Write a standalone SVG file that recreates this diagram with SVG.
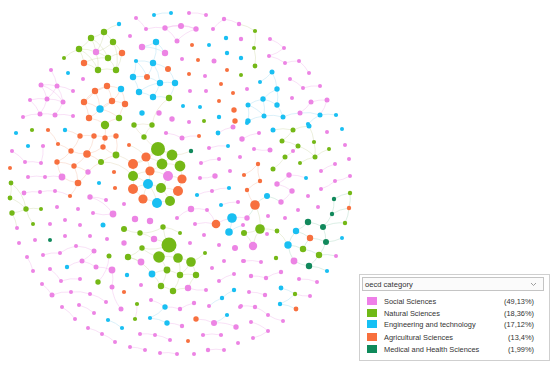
<svg xmlns="http://www.w3.org/2000/svg" width="550" height="370" viewBox="0 0 550 370">
<style>
.p{fill:#ec84e4}.g{fill:#74b816}.c{fill:#19bff2}.o{fill:#f7703f}.t{fill:#11895c}
#edges path{fill:none;stroke-width:.6;opacity:.7}
.ep{stroke:#f0b6eb}.eg{stroke:#d2dcae}.ec{stroke:#a9def2}.eo{stroke:#f6c4ae}.et{stroke:#e2d6b8}.ek{stroke:#aad8c2}
.lt{font-family:"Liberation Sans",Arial,sans-serif;font-size:7.4px;fill:#333}
</style>
<rect width="550" height="370" fill="#fff"/>
<g id="edges">
<path class="eg" d="M104 32A40 40 0 0 1 91 38M104 32A40 40 0 0 1 113 42M91 38A40 40 0 0 1 79 49M91 38A40 40 0 0 1 96 52M113 42A40 40 0 0 1 96 52M113 42A40 40 0 0 1 122 53M79 49A40 40 0 0 1 84 63M79 49A40 40 0 0 1 96 52M96 52A40 40 0 0 1 108 58M108 58A40 40 0 0 1 122 53M84 63A40 40 0 0 1 98 70M98 70A40 40 0 0 1 116 70M108 58A40 40 0 0 1 116 70M104 32A40 40 0 0 1 96 52M91 38A40 40 0 0 1 108 58M84 63A40 40 0 0 1 108 58M79 49A40 40 0 0 1 98 70M113 42A40 40 0 0 1 116 70M122 53A40 40 0 0 1 116 70M96 52A40 40 0 0 1 98 70M64 58A40 40 0 0 1 79 49M104 32A40 40 0 0 1 119 24M255 31A40 40 0 0 1 254 48M254 48A40 40 0 0 1 255 66M239 24A40 40 0 0 1 255 31M11 183A40 40 0 0 1 10 198M10 198A40 40 0 0 1 26 209M26 209A40 40 0 0 1 12 213M26 209A40 40 0 0 1 41 209M11 183A40 40 0 0 1 26 209M12 213A40 40 0 0 1 17 228M33 224A40 40 0 0 1 26 209M273 130A40 40 0 0 1 293 130M293 130A40 40 0 0 1 282 141M282 141A40 40 0 0 1 298 146M298 146A40 40 0 0 1 285 157M285 157A40 40 0 0 1 273 169M309 126A40 40 0 0 1 314 142M314 142A40 40 0 0 1 315 157M315 157A40 40 0 0 1 329 149M298 146A40 40 0 0 1 315 157M300 163A40 40 0 0 1 315 157M293 130A40 40 0 0 1 309 126"/>
<path class="eg" d="M169 245A40 40 0 0 1 159 257M169 245A40 40 0 0 1 178 258M159 257A40 40 0 0 1 142 248M142 248A40 40 0 0 1 128 257M128 257A40 40 0 0 1 141 262M159 257A40 40 0 0 1 167 270M178 258A40 40 0 0 1 191 262M167 270A40 40 0 0 1 180 275M180 275A40 40 0 0 1 196 275M191 262A40 40 0 0 1 196 275M167 270A40 40 0 0 1 161 286M161 286A40 40 0 0 1 173 291M173 291A40 40 0 0 1 188 288M180 275A40 40 0 0 1 173 291M152 274A40 40 0 0 1 167 270M152 274A40 40 0 0 1 161 286M169 245A40 40 0 0 1 163 227M163 227A40 40 0 0 1 180 233M140 233A40 40 0 0 1 154 239M154 239A40 40 0 0 1 169 245M140 233A40 40 0 0 1 124 229M159 257A40 40 0 0 1 178 258M178 258A40 40 0 0 1 180 275M169 245A40 40 0 0 1 142 248M191 262A40 40 0 0 1 180 275M188 288A40 40 0 0 1 196 275M163 227A40 40 0 0 1 140 233M128 257A40 40 0 0 1 152 274M205 253A40 40 0 0 1 191 262M260 229A40 40 0 0 1 277 231M260 229A40 40 0 0 1 244 233M255 205A40 40 0 0 1 260 229M253 245A40 40 0 0 1 260 229M244 233A40 40 0 0 1 253 245M277 231A40 40 0 0 1 288 245"/>
<path class="eo" d="M107 86A40 40 0 0 1 95 91M107 86A40 40 0 0 1 121 89M95 91A40 40 0 0 1 84 102M107 86A40 40 0 0 1 112 101M112 101A40 40 0 0 1 125 104M84 102A40 40 0 0 1 100 109M100 109A40 40 0 0 1 112 101M100 109A40 40 0 0 1 89 118M89 118A40 40 0 0 1 105 124M105 124A40 40 0 0 1 119 118M119 118A40 40 0 0 1 125 104M95 91A40 40 0 0 1 100 109M84 102A40 40 0 0 1 89 118M121 89A40 40 0 0 1 125 104M84 102A40 40 0 0 1 107 86M121 89A40 40 0 0 1 100 109M100 109A40 40 0 0 1 119 118M80 136A40 40 0 0 1 94 136M94 136A40 40 0 0 1 105 137M105 137A40 40 0 0 1 116 136M80 136A40 40 0 0 1 71 151M94 136A40 40 0 0 1 87 154M105 137A40 40 0 0 1 103 147M103 147A40 40 0 0 1 87 154M87 154A40 40 0 0 1 71 151M87 154A40 40 0 0 1 74 166M71 151A40 40 0 0 1 57 162M57 162A40 40 0 0 1 74 166M74 166A40 40 0 0 1 88 172M88 172A40 40 0 0 1 101 162M101 162A40 40 0 0 1 116 155M116 155A40 40 0 0 1 103 147M74 166A40 40 0 0 1 78 183M78 183A40 40 0 0 1 62 177M62 177A40 40 0 0 1 57 162M78 183A40 40 0 0 1 70 196M88 172A40 40 0 0 1 78 183M87 154A40 40 0 0 1 101 162M116 136A40 40 0 0 1 116 155M105 125A40 40 0 0 1 105 137M58 144A40 40 0 0 1 71 151M48 130A40 40 0 0 1 58 144M65 130A40 40 0 0 1 80 136M255 205A40 40 0 0 1 247 190M247 190A40 40 0 0 1 260 181M260 181A40 40 0 0 1 258 164M258 164A40 40 0 0 1 244 175"/>
<path class="et" d="M158 149A40 40 0 0 1 146 157M158 149A40 40 0 0 1 172 155M158 149A40 40 0 0 1 162 164M146 157A40 40 0 0 1 133 164M146 157A40 40 0 0 1 150 171M172 155A40 40 0 0 1 180 166M162 164A40 40 0 0 1 168 176M162 164A40 40 0 0 1 150 171M180 166A40 40 0 0 1 182 179M133 164A40 40 0 0 1 133 176M133 176A40 40 0 0 1 148 184M150 171A40 40 0 0 1 148 184M168 176A40 40 0 0 1 182 179M148 184A40 40 0 0 1 161 188M161 188A40 40 0 0 1 178 191M133 176A40 40 0 0 1 133 189M133 189A40 40 0 0 1 143 199M143 199A40 40 0 0 1 157 203M157 203A40 40 0 0 1 170 201M170 201A40 40 0 0 1 178 191M161 188A40 40 0 0 1 170 201M148 184A40 40 0 0 1 157 203M168 176A40 40 0 0 1 161 188M158 149A40 40 0 0 1 144 137M144 137A40 40 0 0 1 134 125M144 137A40 40 0 0 1 152 125M129 145A40 40 0 0 1 146 157M134 125A40 40 0 0 1 152 125M158 149A40 40 0 0 1 133 164M172 155A40 40 0 0 1 162 164M133 189A40 40 0 0 1 148 184M143 199A40 40 0 0 1 148 184M182 179A40 40 0 0 1 178 191M162 164A40 40 0 0 1 180 166M158 149A40 40 0 0 1 180 166M146 157A40 40 0 0 1 162 164M150 171A40 40 0 0 1 168 176M133 176A40 40 0 0 1 150 171M191 151A40 40 0 0 1 172 155M116 155A40 40 0 0 1 133 164M101 162A40 40 0 0 1 133 176M152 125A40 40 0 0 1 169 98"/>
<path class="ec" d="M136 61A40 40 0 0 1 153 63M153 63A40 40 0 0 1 168 69M136 61A40 40 0 0 1 133 77M133 77A40 40 0 0 1 147 77M147 77A40 40 0 0 1 160 83M160 83A40 40 0 0 1 175 83M133 77A40 40 0 0 1 139 92M139 92A40 40 0 0 1 153 97M153 97A40 40 0 0 1 169 98M160 83A40 40 0 0 1 153 97M175 83A40 40 0 0 1 169 98M153 63A40 40 0 0 1 147 77M153 63A40 40 0 0 1 160 83M168 69A40 40 0 0 1 175 83M139 92A40 40 0 0 1 160 83M136 61A40 40 0 0 1 147 77M156 42A40 40 0 0 1 142 47M156 42A40 40 0 0 1 165 53M142 47A40 40 0 0 1 165 53M156 42A40 40 0 0 1 153 63M248 105A40 40 0 0 1 263 99M263 99A40 40 0 0 1 277 89M277 89A40 40 0 0 1 277 105M263 99A40 40 0 0 1 277 105M248 105A40 40 0 0 1 264 116M264 116A40 40 0 0 1 283 117M277 105A40 40 0 0 1 283 117M248 121A40 40 0 0 1 264 116M272 72A40 40 0 0 1 260 82M272 72A40 40 0 0 1 277 89M263 99A40 40 0 0 1 264 116M248 105A40 40 0 0 1 248 121M300 113A40 40 0 0 1 320 115M320 115A40 40 0 0 1 336 115M283 117A40 40 0 0 1 300 113M308 124A40 40 0 0 1 320 115M165 307A40 40 0 0 1 150 318M150 318A40 40 0 0 1 167 323M209 306A40 40 0 0 1 222 298M222 298A40 40 0 0 1 234 290M227 315A40 40 0 0 1 214 323M281 288A40 40 0 0 1 295 294M295 294A40 40 0 0 1 280 304M280 304A40 40 0 0 1 296 309M108 320A40 40 0 0 1 122 328M232 218A40 40 0 0 1 229 232M229 232A40 40 0 0 1 243 225M154 15A40 40 0 0 1 171 13"/>
<path class="ek" d="M308 222A40 40 0 0 1 323 227M323 227A40 40 0 0 1 345 223M308 222A40 40 0 0 1 296 231M296 231A40 40 0 0 1 310 238M310 238A40 40 0 0 1 326 242M323 227A40 40 0 0 1 326 242M288 245A40 40 0 0 1 303 249M303 249A40 40 0 0 1 319 255M319 255A40 40 0 0 1 309 266M309 266A40 40 0 0 1 294 261M294 261A40 40 0 0 1 288 245M303 249A40 40 0 0 1 310 238M288 245A40 40 0 0 1 296 231M326 242A40 40 0 0 1 319 255M334 199A40 40 0 0 1 350 193M334 199A40 40 0 0 1 332 214M332 214A40 40 0 0 1 349 208M349 208A40 40 0 0 1 345 223M350 193A40 40 0 0 1 349 208M332 214A40 40 0 0 1 323 227M342 238A40 40 0 0 1 326 242M319 255A40 40 0 0 1 336 256M309 266A40 40 0 0 1 327 271M255 205A40 40 0 0 1 267 196M255 205A40 40 0 0 1 247 218M267 196A40 40 0 0 1 281 202"/>
<path class="ep" d="M41 85A40 40 0 0 1 57 86M41 85A40 40 0 0 1 47 99M57 86A40 40 0 0 1 63 102M47 99A40 40 0 0 1 63 102M30 100A40 40 0 0 1 47 99M47 99A40 40 0 0 1 40 114M63 102A40 40 0 0 1 55 115M40 114A40 40 0 0 1 55 115M23 117A40 40 0 0 1 40 114M57 86A40 40 0 0 1 73 91M41 85A40 40 0 0 1 63 102M57 86A40 40 0 0 1 47 99M55 115A40 40 0 0 1 73 116M30 100A40 40 0 0 1 40 114M51 70A40 40 0 0 1 57 86M165 28A40 40 0 0 1 181 26M181 26A40 40 0 0 1 196 29M165 28A40 40 0 0 1 177 41M177 41A40 40 0 0 1 196 29M165 28A40 40 0 0 1 196 29M146 29A40 40 0 0 1 165 28M136 18A40 40 0 0 1 146 29M189 13A40 40 0 0 1 206 15M224 19A40 40 0 0 1 239 24M213 29A40 40 0 0 1 224 19M270 39A40 40 0 0 1 284 48M269 56A40 40 0 0 1 285 63M285 63A40 40 0 0 1 299 61M299 61A40 40 0 0 1 309 73M290 79A40 40 0 0 1 303 88M303 88A40 40 0 0 1 320 86M284 48A40 40 0 0 1 269 56M311 102A40 40 0 0 1 327 100M311 102A40 40 0 0 1 300 113M327 100A40 40 0 0 1 320 115M28 177A40 40 0 0 1 45 177M45 177A40 40 0 0 1 62 177M40 192A40 40 0 0 1 55 191M24 193A40 40 0 0 1 40 192M25 162A40 40 0 0 1 41 163M12 151A40 40 0 0 1 25 162M43 146A40 40 0 0 1 41 163M55 191A40 40 0 0 1 70 196M90 197A40 40 0 0 1 106 200M90 197A40 40 0 0 1 113 214M113 214A40 40 0 0 1 93 213M289 175A40 40 0 0 1 277 184M277 184A40 40 0 0 1 292 191M292 191A40 40 0 0 1 281 202M270 150A40 40 0 0 1 254 149M289 175A40 40 0 0 1 306 178M321 171A40 40 0 0 1 335 164M335 181A40 40 0 0 1 321 189M350 176A40 40 0 0 1 335 181M242 139A40 40 0 0 1 259 133"/>
<path class="ep" d="M60 253A40 40 0 0 1 76 246M76 246A40 40 0 0 1 94 251M94 251A40 40 0 0 1 82 261M82 261A40 40 0 0 1 96 267M96 267A40 40 0 0 1 112 270M112 270A40 40 0 0 1 112 287M43 255A40 40 0 0 1 60 253M27 257A40 40 0 0 1 33 271M50 269A40 40 0 0 1 61 281M61 281A40 40 0 0 1 80 279M42 284A40 40 0 0 1 52 295M52 295A40 40 0 0 1 71 292M71 292A40 40 0 0 1 90 294M90 294A40 40 0 0 1 106 302M79 305A40 40 0 0 1 94 313M62 307A40 40 0 0 1 75 319M88 328A40 40 0 0 1 102 334M102 334A40 40 0 0 1 115 342M121 309A40 40 0 0 1 112 287M109 256A40 40 0 0 1 98 282M67 267A40 40 0 0 1 82 261M165 307A40 40 0 0 1 180 309M180 309A40 40 0 0 1 194 303M167 323A40 40 0 0 1 182 326M196 319A40 40 0 0 1 214 323M214 323A40 40 0 0 1 236 327M140 334A40 40 0 0 1 155 335M155 335A40 40 0 0 1 170 340M203 335A40 40 0 0 1 221 335M208 350A40 40 0 0 1 224 350M160 353A40 40 0 0 1 177 354M130 347A40 40 0 0 1 145 350M137 304A40 40 0 0 1 135 319M151 300A40 40 0 0 1 165 307M219 281A40 40 0 0 1 234 274M206 290A40 40 0 0 1 188 288M244 261A40 40 0 0 1 261 262M251 276A40 40 0 0 1 266 278M266 278A40 40 0 0 1 281 272M249 292A40 40 0 0 1 265 295M241 306A40 40 0 0 1 255 307M255 307A40 40 0 0 1 268 315M251 322A40 40 0 0 1 268 331M268 331A40 40 0 0 1 253 338M283 321A40 40 0 0 1 268 315M299 279A40 40 0 0 1 317 282M310 296A40 40 0 0 1 295 294M191 209A40 40 0 0 1 207 210M207 210A40 40 0 0 1 216 224M216 224A40 40 0 0 1 232 218M215 176A40 40 0 0 1 200 178M201 163A40 40 0 0 1 219 159M209 148A40 40 0 0 1 228 146M218 133A40 40 0 0 1 233 127M182 138A40 40 0 0 1 199 136M166 133A40 40 0 0 1 182 138M212 191A40 40 0 0 1 229 188M197 195A40 40 0 0 1 212 191M221 205A40 40 0 0 1 238 202M195 224A40 40 0 0 1 216 224M177 218A40 40 0 0 1 191 209M232 218A40 40 0 0 1 247 218"/>
</g>
<g id="nodes">
<g id="n1"><circle class="c" cx="119" cy="24" r="2.2"/></g>
<g id="n2"><circle class="g" cx="104" cy="32" r="3.2"/></g>
<g id="n3"><circle class="g" cx="91" cy="38" r="3.2"/></g>
<g id="n4"><circle class="g" cx="113" cy="42" r="3.2"/></g>
<g id="n5"><circle class="g" cx="79" cy="49" r="3.2"/></g>
<g id="n6"><circle class="p" cx="96" cy="52" r="3.2"/></g>
<g id="n7"><circle class="o" cx="122" cy="53" r="3.2"/></g>
<g id="n8"><circle class="g" cx="108" cy="58" r="3.2"/></g>
<g id="n9"><circle class="o" cx="84" cy="63" r="3.2"/></g>
<g id="n10"><circle class="g" cx="64" cy="58" r="2"/></g>
<g id="n11"><circle class="g" cx="98" cy="70" r="3.2"/></g>
<g id="n12"><circle class="g" cx="116" cy="70" r="3.2"/></g>
<g id="n13"><circle class="p" cx="51" cy="70" r="2"/></g>
<g id="n14"><circle class="c" cx="68" cy="73" r="2"/></g>
<g id="n15"><circle class="p" cx="83" cy="79" r="2"/></g>
<g id="n16"><circle class="p" cx="41" cy="85" r="2.5"/></g>
<g id="n17"><circle class="p" cx="57" cy="86" r="2.5"/></g>
<g id="n18"><circle class="o" cx="107" cy="86" r="3.2"/></g>
<g id="n19"><circle class="c" cx="121" cy="89" r="3.2"/></g>
<g id="n20"><circle class="p" cx="73" cy="91" r="2"/></g>
<g id="n21"><circle class="o" cx="95" cy="91" r="3.2"/></g>
<g id="n22"><circle class="o" cx="84" cy="102" r="3.2"/></g>
<g id="n23"><circle class="p" cx="47" cy="99" r="2.5"/></g>
<g id="n24"><circle class="p" cx="30" cy="100" r="2"/></g>
<g id="n25"><circle class="p" cx="63" cy="102" r="2.5"/></g>
<g id="n26"><circle class="o" cx="112" cy="101" r="3.2"/></g>
<g id="n27"><circle class="o" cx="125" cy="104" r="3.2"/></g>
<g id="n28"><circle class="c" cx="100" cy="109" r="3.7"/></g>
<g id="n29"><circle class="p" cx="40" cy="114" r="2.5"/></g>
<g id="n30"><circle class="p" cx="55" cy="115" r="2.5"/></g>
<g id="n31"><circle class="p" cx="73" cy="116" r="2"/></g>
<g id="n32"><circle class="p" cx="23" cy="117" r="2"/></g>
<g id="n33"><circle class="o" cx="89" cy="118" r="3.2"/></g>
<g id="n34"><circle class="g" cx="119" cy="118" r="3.2"/></g>
<g id="n35"><circle class="g" cx="105" cy="125" r="4.2"/></g>
<g id="n36"><circle class="p" cx="136" cy="18" r="2"/></g>
<g id="n37"><circle class="c" cx="154" cy="15" r="2"/></g>
<g id="n38"><circle class="c" cx="171" cy="13" r="2"/></g>
<g id="n39"><circle class="p" cx="189" cy="13" r="2"/></g>
<g id="n40"><circle class="p" cx="206" cy="15" r="2"/></g>
<g id="n41"><circle class="p" cx="224" cy="19" r="2.2"/></g>
<g id="n42"><circle class="p" cx="239" cy="24" r="2.2"/></g>
<g id="n43"><circle class="p" cx="181" cy="26" r="3"/></g>
<g id="n44"><circle class="p" cx="165" cy="28" r="2.7"/></g>
<g id="n45"><circle class="p" cx="196" cy="29" r="2.7"/></g>
<g id="n46"><circle class="p" cx="146" cy="29" r="2"/></g>
<g id="n47"><circle class="p" cx="213" cy="29" r="2"/></g>
<g id="n48"><circle class="p" cx="130" cy="36" r="2"/></g>
<g id="n49"><circle class="c" cx="226" cy="38" r="2.2"/></g>
<g id="n50"><circle class="p" cx="241" cy="39" r="2.2"/></g>
<g id="n51"><circle class="p" cx="177" cy="41" r="2.5"/></g>
<g id="n52"><circle class="c" cx="156" cy="42" r="3.2"/></g>
<g id="n53"><circle class="o" cx="192" cy="45" r="2"/></g>
<g id="n54"><circle class="c" cx="209" cy="45" r="2"/></g>
<g id="n55"><circle class="p" cx="142" cy="47" r="3.2"/></g>
<g id="n56"><circle class="p" cx="165" cy="53" r="3.2"/></g>
<g id="n57"><circle class="c" cx="227" cy="53" r="2.2"/></g>
<g id="n58"><circle class="c" cx="241" cy="58" r="2.2"/></g>
<g id="n59"><circle class="p" cx="182" cy="59" r="2"/></g>
<g id="n60"><circle class="o" cx="198" cy="60" r="2"/></g>
<g id="n61"><circle class="p" cx="214" cy="61" r="2.5"/></g>
<g id="n62"><circle class="c" cx="136" cy="61" r="2.1"/></g>
<g id="n63"><circle class="c" cx="153" cy="63" r="3.2"/></g>
<g id="n64"><circle class="o" cx="168" cy="69" r="3"/></g>
<g id="n65"><circle class="o" cx="227" cy="70" r="2"/></g>
<g id="n66"><circle class="o" cx="189" cy="74" r="2"/></g>
<g id="n67"><circle class="p" cx="205" cy="76" r="2"/></g>
<g id="n68"><circle class="g" cx="241" cy="75" r="2"/></g>
<g id="n69"><circle class="c" cx="133" cy="77" r="3.2"/></g>
<g id="n70"><circle class="o" cx="147" cy="77" r="3"/></g>
<g id="n71"><circle class="c" cx="160" cy="83" r="3.2"/></g>
<g id="n72"><circle class="c" cx="175" cy="83" r="3.2"/></g>
<g id="n73"><circle class="o" cx="221" cy="84" r="2"/></g>
<g id="n74"><circle class="p" cx="190" cy="91" r="2"/></g>
<g id="n75"><circle class="p" cx="206" cy="91" r="2"/></g>
<g id="n76"><circle class="o" cx="233" cy="93" r="2"/></g>
<g id="n77"><circle class="c" cx="139" cy="92" r="3.2"/></g>
<g id="n78"><circle class="c" cx="153" cy="97" r="3.2"/></g>
<g id="n79"><circle class="g" cx="169" cy="98" r="3.2"/></g>
<g id="n80"><circle class="o" cx="219" cy="101" r="2"/></g>
<g id="n81"><circle class="c" cx="183" cy="106" r="2"/></g>
<g id="n82"><circle class="c" cx="200" cy="107" r="2"/></g>
<g id="n83"><circle class="o" cx="234" cy="110" r="2.7"/></g>
<g id="n84"><circle class="c" cx="142" cy="113" r="2.7"/></g>
<g id="n85"><circle class="p" cx="159" cy="113" r="2.7"/></g>
<g id="n86"><circle class="c" cx="219" cy="117" r="2.2"/></g>
<g id="n87"><circle class="p" cx="172" cy="119" r="2.7"/></g>
<g id="n88"><circle class="p" cx="189" cy="122" r="2"/></g>
<g id="n89"><circle class="g" cx="204" cy="121" r="2"/></g>
<g id="n90"><circle class="o" cx="235" cy="121" r="2.7"/></g>
<g id="n91"><circle class="g" cx="134" cy="125" r="2.7"/></g>
<g id="n92"><circle class="g" cx="152" cy="125" r="2.7"/></g>
<g id="n93"><circle class="g" cx="255" cy="31" r="2.1"/></g>
<g id="n94"><circle class="p" cx="270" cy="39" r="2"/></g>
<g id="n95"><circle class="g" cx="254" cy="48" r="2"/></g>
<g id="n96"><circle class="p" cx="284" cy="48" r="2"/></g>
<g id="n97"><circle class="p" cx="269" cy="56" r="2"/></g>
<g id="n98"><circle class="p" cx="285" cy="63" r="2"/></g>
<g id="n99"><circle class="p" cx="299" cy="61" r="2"/></g>
<g id="n100"><circle class="g" cx="255" cy="66" r="2.4"/></g>
<g id="n101"><circle class="c" cx="272" cy="72" r="2.5"/></g>
<g id="n102"><circle class="p" cx="309" cy="73" r="2"/></g>
<g id="n103"><circle class="c" cx="260" cy="82" r="2"/></g>
<g id="n104"><circle class="p" cx="290" cy="79" r="2"/></g>
<g id="n105"><circle class="p" cx="320" cy="86" r="2"/></g>
<g id="n106"><circle class="p" cx="303" cy="88" r="2"/></g>
<g id="n107"><circle class="c" cx="277" cy="89" r="2.7"/></g>
<g id="n108"><circle class="p" cx="247" cy="89" r="2"/></g>
<g id="n109"><circle class="c" cx="263" cy="99" r="2.7"/></g>
<g id="n110"><circle class="p" cx="292" cy="98" r="2"/></g>
<g id="n111"><circle class="p" cx="311" cy="102" r="2.5"/></g>
<g id="n112"><circle class="p" cx="327" cy="100" r="2.5"/></g>
<g id="n113"><circle class="c" cx="277" cy="105" r="2.7"/></g>
<g id="n114"><circle class="c" cx="248" cy="105" r="2.5"/></g>
<g id="n115"><circle class="p" cx="300" cy="113" r="2.5"/></g>
<g id="n116"><circle class="c" cx="320" cy="115" r="2.5"/></g>
<g id="n117"><circle class="c" cx="336" cy="115" r="2.1"/></g>
<g id="n118"><circle class="c" cx="264" cy="116" r="2.5"/></g>
<g id="n119"><circle class="c" cx="283" cy="117" r="2.5"/></g>
<g id="n120"><circle class="c" cx="248" cy="121" r="2.7"/></g>
<g id="n121"><circle class="c" cx="308" cy="124" r="2.1"/></g>
<g id="n122"><circle class="c" cx="16" cy="133" r="2.1"/></g>
<g id="n123"><circle class="g" cx="32" cy="130" r="2.1"/></g>
<g id="n124"><circle class="o" cx="48" cy="130" r="2.1"/></g>
<g id="n125"><circle class="c" cx="65" cy="130" r="2.2"/></g>
<g id="n126"><circle class="o" cx="80" cy="136" r="2.7"/></g>
<g id="n127"><circle class="o" cx="94" cy="136" r="2.7"/></g>
<g id="n128"><circle class="o" cx="105" cy="138" r="2.7"/></g>
<g id="n129"><circle class="o" cx="116" cy="136" r="2.7"/></g>
<g id="n130"><circle class="c" cx="28" cy="146" r="2.1"/></g>
<g id="n131"><circle class="p" cx="43" cy="146" r="2.1"/></g>
<g id="n132"><circle class="o" cx="58" cy="144" r="2.1"/></g>
<g id="n133"><circle class="o" cx="103" cy="147" r="2.7"/></g>
<g id="n134"><circle class="p" cx="12" cy="151" r="2"/></g>
<g id="n135"><circle class="o" cx="71" cy="151" r="2.7"/></g>
<g id="n136"><circle class="o" cx="87" cy="154" r="3.8"/></g>
<g id="n137"><circle class="g" cx="116" cy="155" r="3.4"/></g>
<g id="n138"><circle class="p" cx="25" cy="162" r="2"/></g>
<g id="n139"><circle class="p" cx="41" cy="163" r="2"/></g>
<g id="n140"><circle class="o" cx="57" cy="162" r="2.7"/></g>
<g id="n141"><circle class="g" cx="101" cy="162" r="3"/></g>
<g id="n142"><circle class="o" cx="74" cy="166" r="2.7"/></g>
<g id="n143"><circle class="o" cx="10" cy="168" r="2"/></g>
<g id="n144"><circle class="p" cx="88" cy="172" r="2.7"/></g>
<g id="n145"><circle class="o" cx="114" cy="172" r="2.1"/></g>
<g id="n146"><circle class="p" cx="28" cy="177" r="2"/></g>
<g id="n147"><circle class="p" cx="45" cy="177" r="2"/></g>
<g id="n148"><circle class="p" cx="62" cy="177" r="3.4"/></g>
<g id="n149"><circle class="o" cx="78" cy="183" r="3.3"/></g>
<g id="n150"><circle class="g" cx="11" cy="183" r="2.4"/></g>
<g id="n151"><circle class="c" cx="99" cy="183" r="2.1"/></g>
<g id="n152"><circle class="o" cx="115" cy="188" r="2.1"/></g>
<g id="n153"><circle class="p" cx="24" cy="193" r="2.4"/></g>
<g id="n154"><circle class="p" cx="40" cy="192" r="2"/></g>
<g id="n155"><circle class="p" cx="55" cy="191" r="2"/></g>
<g id="n156"><circle class="o" cx="70" cy="196" r="2.1"/></g>
<g id="n157"><circle class="p" cx="90" cy="197" r="2.7"/></g>
<g id="n158"><circle class="p" cx="106" cy="200" r="2"/></g>
<g id="n159"><circle class="p" cx="124" cy="204" r="2"/></g>
<g id="n160"><circle class="g" cx="10" cy="198" r="2.4"/></g>
<g id="n161"><circle class="g" cx="26" cy="209" r="2.7"/></g>
<g id="n162"><circle class="g" cx="41" cy="209" r="2"/></g>
<g id="n163"><circle class="p" cx="57" cy="207" r="2"/></g>
<g id="n164"><circle class="p" cx="78" cy="209" r="2"/></g>
<g id="n165"><circle class="g" cx="12" cy="213" r="2.7"/></g>
<g id="n166"><circle class="p" cx="113" cy="214" r="3.4"/></g>
<g id="n167"><circle class="p" cx="93" cy="213" r="2"/></g>
<g id="n168"><circle class="p" cx="65" cy="220" r="2"/></g>
<g id="n169"><circle class="p" cx="50" cy="224" r="2"/></g>
<g id="n170"><circle class="g" cx="33" cy="224" r="2"/></g>
<g id="n171"><circle class="p" cx="80" cy="225" r="2"/></g>
<g id="n172"><circle class="c" cx="103" cy="225" r="2.5"/></g>
<g id="n173"><circle class="g" cx="124" cy="229" r="3"/></g>
<g id="n174"><circle class="p" cx="17" cy="228" r="2"/></g>
<g id="n175"><circle class="p" cx="65" cy="236" r="2"/></g>
<g id="n176"><circle class="p" cx="90" cy="236" r="2"/></g>
<g id="n177"><circle class="p" cx="107" cy="239" r="2"/></g>
<g id="n178"><circle class="p" cx="35" cy="240" r="2"/></g>
<g id="n179"><circle class="t" cx="50" cy="240" r="2"/></g>
<g id="n180"><circle class="p" cx="19" cy="243" r="2"/></g>
<g id="n181"><circle class="p" cx="124" cy="243" r="2.7"/></g>
<g id="n182"><circle class="p" cx="166" cy="133" r="2.1"/></g>
<g id="n183"><circle class="p" cx="182" cy="138" r="2.5"/></g>
<g id="n184"><circle class="o" cx="199" cy="136" r="2"/></g>
<g id="n185"><circle class="c" cx="218" cy="133" r="2.4"/></g>
<g id="n186"><circle class="p" cx="233" cy="127" r="2.5"/></g>
<g id="n187"><circle class="p" cx="242" cy="139" r="2.7"/></g>
<g id="n188"><circle class="g" cx="144" cy="137" r="2.7"/></g>
<g id="n189"><circle class="o" cx="129" cy="145" r="2"/></g>
<g id="n190"><circle class="g" cx="158" cy="149" r="7"/></g>
<g id="n191"><circle class="t" cx="191" cy="151" r="2.2"/></g>
<g id="n192"><circle class="p" cx="209" cy="148" r="2"/></g>
<g id="n193"><circle class="c" cx="228" cy="146" r="2"/></g>
<g id="n194"><circle class="o" cx="146" cy="157" r="4.6"/></g>
<g id="n195"><circle class="g" cx="172" cy="155" r="5.4"/></g>
<g id="n196"><circle class="p" cx="219" cy="159" r="2"/></g>
<g id="n197"><circle class="p" cx="240" cy="157" r="2"/></g>
<g id="n198"><circle class="o" cx="133" cy="164" r="5"/></g>
<g id="n199"><circle class="g" cx="162" cy="164" r="5.4"/></g>
<g id="n200"><circle class="g" cx="180" cy="166" r="5.4"/></g>
<g id="n201"><circle class="p" cx="201" cy="163" r="2"/></g>
<g id="n202"><circle class="p" cx="230" cy="171" r="2"/></g>
<g id="n203"><circle class="o" cx="150" cy="171" r="4.6"/></g>
<g id="n204"><circle class="p" cx="168" cy="176" r="5"/></g>
<g id="n205"><circle class="o" cx="182" cy="179" r="4.6"/></g>
<g id="n206"><circle class="g" cx="133" cy="176" r="5"/></g>
<g id="n207"><circle class="p" cx="215" cy="176" r="2.7"/></g>
<g id="n208"><circle class="p" cx="200" cy="178" r="2"/></g>
<g id="n209"><circle class="o" cx="244" cy="175" r="2.1"/></g>
<g id="n210"><circle class="c" cx="148" cy="184" r="5"/></g>
<g id="n211"><circle class="g" cx="161" cy="188" r="5"/></g>
<g id="n212"><circle class="o" cx="133" cy="189" r="5"/></g>
<g id="n213"><circle class="o" cx="178" cy="191" r="5"/></g>
<g id="n214"><circle class="c" cx="229" cy="188" r="2.1"/></g>
<g id="n215"><circle class="p" cx="212" cy="191" r="2"/></g>
<g id="n216"><circle class="c" cx="197" cy="195" r="2.1"/></g>
<g id="n217"><circle class="p" cx="238" cy="202" r="2"/></g>
<g id="n218"><circle class="o" cx="143" cy="199" r="4.6"/></g>
<g id="n219"><circle class="c" cx="157" cy="203" r="5"/></g>
<g id="n220"><circle class="g" cx="170" cy="201" r="5"/></g>
<g id="n221"><circle class="c" cx="221" cy="205" r="2"/></g>
<g id="n222"><circle class="p" cx="191" cy="209" r="3.2"/></g>
<g id="n223"><circle class="p" cx="207" cy="210" r="2"/></g>
<g id="n224"><circle class="p" cx="177" cy="218" r="2"/></g>
<g id="n225"><circle class="c" cx="232" cy="218" r="4.8"/></g>
<g id="n226"><circle class="p" cx="135" cy="219" r="3.2"/></g>
<g id="n227"><circle class="p" cx="150" cy="221" r="3.2"/></g>
<g id="n228"><circle class="o" cx="216" cy="224" r="4.3"/></g>
<g id="n229"><circle class="p" cx="195" cy="224" r="2"/></g>
<g id="n230"><circle class="g" cx="163" cy="227" r="2.7"/></g>
<g id="n231"><circle class="p" cx="243" cy="225" r="2"/></g>
<g id="n232"><circle class="c" cx="229" cy="232" r="3.8"/></g>
<g id="n233"><circle class="g" cx="140" cy="233" r="2.7"/></g>
<g id="n234"><circle class="g" cx="180" cy="233" r="2"/></g>
<g id="n235"><circle class="p" cx="154" cy="239" r="3.2"/></g>
<g id="n236"><circle class="g" cx="169" cy="245" r="7.5"/></g>
<g id="n237"><circle class="p" cx="190" cy="243" r="2"/></g>
<g id="n238"><circle class="p" cx="204" cy="235" r="2"/></g>
<g id="n239"><circle class="c" cx="247" cy="123" r="2"/></g>
<g id="n240"><circle class="c" cx="273" cy="130" r="2.5"/></g>
<g id="n241"><circle class="g" cx="293" cy="130" r="2.5"/></g>
<g id="n242"><circle class="c" cx="309" cy="126" r="2.5"/></g>
<g id="n243"><circle class="p" cx="327" cy="132" r="2"/></g>
<g id="n244"><circle class="c" cx="342" cy="129" r="2"/></g>
<g id="n245"><circle class="p" cx="259" cy="133" r="2"/></g>
<g id="n246"><circle class="g" cx="282" cy="141" r="2.5"/></g>
<g id="n247"><circle class="g" cx="314" cy="142" r="2.1"/></g>
<g id="n248"><circle class="g" cx="298" cy="146" r="2.5"/></g>
<g id="n249"><circle class="p" cx="254" cy="149" r="2"/></g>
<g id="n250"><circle class="p" cx="270" cy="150" r="2.5"/></g>
<g id="n251"><circle class="g" cx="329" cy="149" r="2"/></g>
<g id="n252"><circle class="p" cx="345" cy="145" r="2"/></g>
<g id="n253"><circle class="p" cx="293" cy="151" r="2"/></g>
<g id="n254"><circle class="g" cx="285" cy="157" r="2.5"/></g>
<g id="n255"><circle class="g" cx="315" cy="157" r="2.5"/></g>
<g id="n256"><circle class="p" cx="349" cy="159" r="2"/></g>
<g id="n257"><circle class="g" cx="300" cy="163" r="2"/></g>
<g id="n258"><circle class="p" cx="335" cy="164" r="2"/></g>
<g id="n259"><circle class="o" cx="258" cy="164" r="2.2"/></g>
<g id="n260"><circle class="g" cx="273" cy="169" r="2.5"/></g>
<g id="n261"><circle class="p" cx="321" cy="171" r="2"/></g>
<g id="n262"><circle class="p" cx="289" cy="175" r="2.7"/></g>
<g id="n263"><circle class="c" cx="306" cy="178" r="2"/></g>
<g id="n264"><circle class="p" cx="335" cy="181" r="2"/></g>
<g id="n265"><circle class="p" cx="350" cy="176" r="2"/></g>
<g id="n266"><circle class="o" cx="260" cy="181" r="2.2"/></g>
<g id="n267"><circle class="p" cx="277" cy="184" r="2.7"/></g>
<g id="n268"><circle class="p" cx="321" cy="189" r="2"/></g>
<g id="n269"><circle class="o" cx="247" cy="190" r="2.2"/></g>
<g id="n270"><circle class="p" cx="292" cy="191" r="2.7"/></g>
<g id="n271"><circle class="g" cx="350" cy="193" r="2.2"/></g>
<g id="n272"><circle class="c" cx="267" cy="196" r="3"/></g>
<g id="n273"><circle class="p" cx="308" cy="196" r="2"/></g>
<g id="n274"><circle class="t" cx="334" cy="199" r="2.2"/></g>
<g id="n275"><circle class="p" cx="281" cy="202" r="2.7"/></g>
<g id="n276"><circle class="o" cx="255" cy="205" r="4.8"/></g>
<g id="n277"><circle class="p" cx="318" cy="207" r="2"/></g>
<g id="n278"><circle class="o" cx="349" cy="208" r="2.2"/></g>
<g id="n279"><circle class="p" cx="298" cy="210" r="2"/></g>
<g id="n280"><circle class="t" cx="332" cy="214" r="2.2"/></g>
<g id="n281"><circle class="p" cx="268" cy="216" r="2"/></g>
<g id="n282"><circle class="p" cx="285" cy="218" r="2"/></g>
<g id="n283"><circle class="p" cx="247" cy="218" r="2.7"/></g>
<g id="n284"><circle class="g" cx="345" cy="223" r="2.2"/></g>
<g id="n285"><circle class="t" cx="308" cy="222" r="3.2"/></g>
<g id="n286"><circle class="g" cx="260" cy="229" r="4.8"/></g>
<g id="n287"><circle class="g" cx="277" cy="231" r="2.4"/></g>
<g id="n288"><circle class="c" cx="296" cy="231" r="3.2"/></g>
<g id="n289"><circle class="t" cx="323" cy="227" r="3"/></g>
<g id="n290"><circle class="g" cx="244" cy="233" r="3"/></g>
<g id="n291"><circle class="p" cx="267" cy="234" r="2"/></g>
<g id="n292"><circle class="o" cx="310" cy="238" r="3.2"/></g>
<g id="n293"><circle class="c" cx="342" cy="238" r="2"/></g>
<g id="n294"><circle class="t" cx="326" cy="242" r="3"/></g>
<g id="n295"><circle class="c" cx="288" cy="245" r="3.7"/></g>
<g id="n296"><circle class="p" cx="253" cy="246" r="4.2"/></g>
<g id="n297"><circle class="p" cx="76" cy="246" r="2"/></g>
<g id="n298"><circle class="p" cx="60" cy="253" r="2"/></g>
<g id="n299"><circle class="p" cx="94" cy="251" r="2.5"/></g>
<g id="n300"><circle class="g" cx="109" cy="256" r="2.5"/></g>
<g id="n301"><circle class="p" cx="43" cy="255" r="2"/></g>
<g id="n302"><circle class="p" cx="27" cy="257" r="2"/></g>
<g id="n303"><circle class="p" cx="82" cy="261" r="2.5"/></g>
<g id="n304"><circle class="c" cx="67" cy="267" r="2.2"/></g>
<g id="n305"><circle class="p" cx="96" cy="267" r="2.5"/></g>
<g id="n306"><circle class="p" cx="50" cy="269" r="2"/></g>
<g id="n307"><circle class="p" cx="112" cy="270" r="3.4"/></g>
<g id="n308"><circle class="p" cx="33" cy="271" r="2"/></g>
<g id="n309"><circle class="p" cx="80" cy="279" r="2"/></g>
<g id="n310"><circle class="p" cx="61" cy="281" r="2"/></g>
<g id="n311"><circle class="g" cx="98" cy="282" r="2.7"/></g>
<g id="n312"><circle class="p" cx="42" cy="284" r="2"/></g>
<g id="n313"><circle class="p" cx="112" cy="287" r="2.5"/></g>
<g id="n314"><circle class="o" cx="124" cy="292" r="2.1"/></g>
<g id="n315"><circle class="p" cx="71" cy="292" r="2"/></g>
<g id="n316"><circle class="p" cx="52" cy="295" r="2.5"/></g>
<g id="n317"><circle class="p" cx="90" cy="294" r="2"/></g>
<g id="n318"><circle class="p" cx="106" cy="302" r="2"/></g>
<g id="n319"><circle class="p" cx="79" cy="305" r="2"/></g>
<g id="n320"><circle class="p" cx="62" cy="307" r="2"/></g>
<g id="n321"><circle class="p" cx="121" cy="309" r="2.5"/></g>
<g id="n322"><circle class="p" cx="94" cy="313" r="2"/></g>
<g id="n323"><circle class="p" cx="75" cy="319" r="2"/></g>
<g id="n324"><circle class="c" cx="108" cy="320" r="2.1"/></g>
<g id="n325"><circle class="c" cx="122" cy="328" r="2.1"/></g>
<g id="n326"><circle class="p" cx="88" cy="328" r="2"/></g>
<g id="n327"><circle class="p" cx="102" cy="334" r="2"/></g>
<g id="n328"><circle class="p" cx="115" cy="342" r="2"/></g>
<g id="n329"><circle class="g" cx="142" cy="248" r="2.7"/></g>
<g id="n330"><circle class="g" cx="128" cy="257" r="3.2"/></g>
<g id="n331"><circle class="g" cx="159" cy="257" r="5.8"/></g>
<g id="n332"><circle class="g" cx="178" cy="258" r="4.8"/></g>
<g id="n333"><circle class="g" cx="191" cy="262" r="4.8"/></g>
<g id="n334"><circle class="p" cx="141" cy="262" r="3.4"/></g>
<g id="n335"><circle class="g" cx="205" cy="253" r="2"/></g>
<g id="n336"><circle class="p" cx="219" cy="245" r="2"/></g>
<g id="n337"><circle class="p" cx="235" cy="248" r="3"/></g>
<g id="n338"><circle class="p" cx="243" cy="261" r="2"/></g>
<g id="n339"><circle class="p" cx="224" cy="261" r="2"/></g>
<g id="n340"><circle class="p" cx="212" cy="268" r="2"/></g>
<g id="n341"><circle class="g" cx="167" cy="270" r="3.4"/></g>
<g id="n342"><circle class="c" cx="152" cy="274" r="3.4"/></g>
<g id="n343"><circle class="c" cx="127" cy="275" r="2.2"/></g>
<g id="n344"><circle class="g" cx="180" cy="275" r="3.2"/></g>
<g id="n345"><circle class="g" cx="196" cy="275" r="3.2"/></g>
<g id="n346"><circle class="p" cx="234" cy="274" r="2"/></g>
<g id="n347"><circle class="p" cx="219" cy="281" r="2"/></g>
<g id="n348"><circle class="p" cx="141" cy="285" r="2"/></g>
<g id="n349"><circle class="g" cx="161" cy="286" r="3.2"/></g>
<g id="n350"><circle class="p" cx="188" cy="288" r="3.2"/></g>
<g id="n351"><circle class="g" cx="173" cy="291" r="3.2"/></g>
<g id="n352"><circle class="p" cx="206" cy="290" r="2"/></g>
<g id="n353"><circle class="c" cx="234" cy="290" r="2.2"/></g>
<g id="n354"><circle class="c" cx="222" cy="298" r="2.2"/></g>
<g id="n355"><circle class="p" cx="151" cy="300" r="2"/></g>
<g id="n356"><circle class="g" cx="137" cy="304" r="2.1"/></g>
<g id="n357"><circle class="p" cx="194" cy="303" r="2.2"/></g>
<g id="n358"><circle class="p" cx="209" cy="306" r="2"/></g>
<g id="n359"><circle class="p" cx="240" cy="307" r="2"/></g>
<g id="n360"><circle class="c" cx="165" cy="307" r="2.7"/></g>
<g id="n361"><circle class="p" cx="180" cy="309" r="2.2"/></g>
<g id="n362"><circle class="c" cx="227" cy="315" r="2.1"/></g>
<g id="n363"><circle class="c" cx="150" cy="318" r="2.1"/></g>
<g id="n364"><circle class="o" cx="196" cy="319" r="2.7"/></g>
<g id="n365"><circle class="g" cx="135" cy="319" r="2.1"/></g>
<g id="n366"><circle class="c" cx="167" cy="323" r="2.7"/></g>
<g id="n367"><circle class="p" cx="214" cy="323" r="3"/></g>
<g id="n368"><circle class="p" cx="182" cy="326" r="2.2"/></g>
<g id="n369"><circle class="p" cx="236" cy="327" r="2.7"/></g>
<g id="n370"><circle class="p" cx="140" cy="334" r="2"/></g>
<g id="n371"><circle class="p" cx="155" cy="335" r="2"/></g>
<g id="n372"><circle class="p" cx="203" cy="335" r="2.1"/></g>
<g id="n373"><circle class="p" cx="221" cy="335" r="2.1"/></g>
<g id="n374"><circle class="p" cx="170" cy="340" r="2"/></g>
<g id="n375"><circle class="o" cx="188" cy="341" r="2"/></g>
<g id="n376"><circle class="p" cx="238" cy="343" r="2"/></g>
<g id="n377"><circle class="p" cx="130" cy="347" r="2"/></g>
<g id="n378"><circle class="p" cx="145" cy="350" r="2"/></g>
<g id="n379"><circle class="p" cx="208" cy="350" r="2.2"/></g>
<g id="n380"><circle class="p" cx="224" cy="350" r="2"/></g>
<g id="n381"><circle class="p" cx="160" cy="353" r="2"/></g>
<g id="n382"><circle class="p" cx="177" cy="354" r="2"/></g>
<g id="n383"><circle class="p" cx="194" cy="354" r="2"/></g>
<g id="n384"><circle class="g" cx="303" cy="249" r="3.2"/></g>
<g id="n385"><circle class="g" cx="319" cy="255" r="3.2"/></g>
<g id="n386"><circle class="p" cx="244" cy="261" r="2"/></g>
<g id="n387"><circle class="g" cx="276" cy="258" r="2.2"/></g>
<g id="n388"><circle class="p" cx="294" cy="261" r="3.4"/></g>
<g id="n389"><circle class="p" cx="261" cy="262" r="2"/></g>
<g id="n390"><circle class="t" cx="309" cy="266" r="3.2"/></g>
<g id="n391"><circle class="p" cx="336" cy="256" r="2"/></g>
<g id="n392"><circle class="c" cx="327" cy="271" r="2.1"/></g>
<g id="n393"><circle class="p" cx="281" cy="272" r="2.2"/></g>
<g id="n394"><circle class="p" cx="251" cy="276" r="2.2"/></g>
<g id="n395"><circle class="p" cx="266" cy="278" r="2.2"/></g>
<g id="n396"><circle class="p" cx="299" cy="279" r="2"/></g>
<g id="n397"><circle class="p" cx="317" cy="282" r="2"/></g>
<g id="n398"><circle class="c" cx="281" cy="288" r="2.4"/></g>
<g id="n399"><circle class="p" cx="249" cy="292" r="2"/></g>
<g id="n400"><circle class="g" cx="295" cy="294" r="2.2"/></g>
<g id="n401"><circle class="p" cx="265" cy="295" r="2.2"/></g>
<g id="n402"><circle class="p" cx="310" cy="296" r="2"/></g>
<g id="n403"><circle class="c" cx="280" cy="304" r="2.2"/></g>
<g id="n404"><circle class="p" cx="241" cy="306" r="2"/></g>
<g id="n405"><circle class="p" cx="255" cy="307" r="2.2"/></g>
<g id="n406"><circle class="o" cx="296" cy="309" r="2.4"/></g>
<g id="n407"><circle class="p" cx="268" cy="315" r="2"/></g>
<g id="n408"><circle class="p" cx="283" cy="321" r="2"/></g>
<g id="n409"><circle class="p" cx="251" cy="322" r="2"/></g>
<g id="n410"><circle class="p" cx="268" cy="331" r="2"/></g>
<g id="n411"><circle class="p" cx="253" cy="338" r="2"/></g>
</g>
<g id="legend">
<rect x="359.5" y="274.5" width="190" height="86" fill="#fff" stroke="#cfcfcf"/>
<rect x="362.5" y="277.5" width="181" height="13" fill="#fbfbfb" stroke="#c4c4c4"/>
<text class="lt" x="365" y="287" style="font-size:7.6px">oecd category</text>
<polyline points="531,283 533.5,285.5 536,283" fill="none" stroke="#888" stroke-width=".8"/>
<rect x="367" y="297" width="10" height="8" fill="#ee7fe8"/>
<rect x="367" y="309" width="10" height="8" fill="#6fb916"/>
<rect x="367" y="320" width="10" height="8" fill="#15c0f4"/>
<rect x="367" y="333" width="10" height="8" fill="#f86f3d"/>
<rect x="367" y="345" width="10" height="8" fill="#0f8a5b"/>
<text class="lt" x="384" y="304">Social Sciences</text>
<text class="lt" x="384" y="315.5">Natural Sciences</text>
<text class="lt" x="384" y="327">Engineering and technology</text>
<text class="lt" x="384" y="340">Agricultural Sciences</text>
<text class="lt" x="384" y="352">Medical and Health Sciences</text>
<text class="lt" x="534" y="304" text-anchor="end">(49,13%)</text>
<text class="lt" x="534" y="315.5" text-anchor="end">(18,36%)</text>
<text class="lt" x="534" y="327" text-anchor="end">(17,12%)</text>
<text class="lt" x="534" y="340" text-anchor="end">(13,4%)</text>
<text class="lt" x="534" y="352" text-anchor="end">(1,99%)</text>
</g>
</svg>
